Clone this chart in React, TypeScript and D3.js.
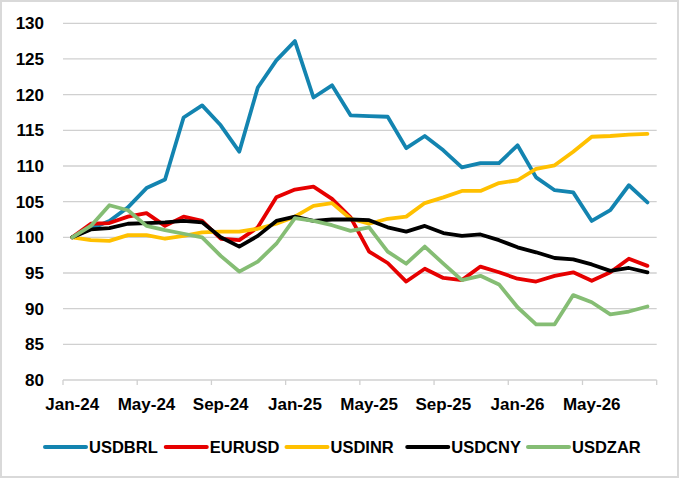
import React, { useEffect, useRef } from "react";
import * as d3 from "d3";

const months = [
  "Jan-24", "Feb-24", "Mar-24", "Apr-24", "May-24", "Jun-24", "Jul-24", "Aug-24",
  "Sep-24", "Oct-24", "Nov-24", "Dec-24", "Jan-25", "Feb-25", "Mar-25", "Apr-25",
  "May-25", "Jun-25", "Jul-25", "Aug-25", "Sep-25", "Oct-25", "Nov-25", "Dec-25",
  "Jan-26", "Feb-26", "Mar-26", "Apr-26", "May-26", "Jun-26", "Jul-26", "Aug-26",
];

const usdbrl = [
  100, 101.2, 102.3, 104.2, 106.9, 108.1, 116.8, 118.5, 115.7, 112.0, 121.0, 124.8,
  127.5, 119.6, 121.3, 117.1, 117.0, 116.9, 112.5, 114.2, 112.2, 109.8, 110.4, 110.4,
  112.9, 108.4, 106.6, 106.3, 102.3, 103.8, 107.3, 104.9,
];
const eurusd = [
  100, 101.9, 102.0, 102.9, 103.4, 101.6, 102.9, 102.3, 99.8, 99.6, 101.4, 105.6,
  106.7, 107.1, 105.4, 102.8, 98.0, 96.4, 93.8, 95.6, 94.3, 94.0, 95.9, 95.1,
  94.2, 93.8, 94.6, 95.1, 93.9, 95.1, 97.0, 96.0,
];
const usdinr = [
  100, 99.6, 99.5, 100.3, 100.3, 99.8, 100.2, 100.7, 100.8, 100.8, 101.2, 101.9,
  102.9, 104.4, 104.8, 102.6, 101.9, 102.6, 102.9, 104.8, 105.6, 106.5, 106.5, 107.6,
  108.0, 109.6, 110.1, 112.0, 114.1, 114.2, 114.4, 114.5,
];
const usdcny = [
  100, 101.1, 101.3, 101.9, 102.0, 102.1, 102.3, 102.1, 100.0, 98.7, 100.2, 102.3,
  102.9, 102.3, 102.5, 102.5, 102.4, 101.4, 100.8, 101.6, 100.6, 100.2, 100.4, 99.6,
  98.6, 97.9, 97.1, 96.9, 96.2, 95.3, 95.7, 95.1,
];
const usdzar = [
  100, 101.6, 104.5, 103.8, 101.6, 101.0, 100.5, 100.0, 97.4, 95.2, 96.6, 99.1,
  102.7, 102.3, 101.7, 100.9, 101.4, 98.0, 96.3, 98.7, 96.3, 94.0, 94.6, 93.4,
  90.2, 87.8, 87.8, 91.9, 90.9, 89.2, 89.6, 90.3,
];

const seriesNames = ["USDBRL", "EURUSD", "USDINR", "USDCNY", "USDZAR"];
const seriesValues = [usdbrl, eurusd, usdinr, usdcny, usdzar];
const seriesColors = ["#1384b0", "#e60000", "#ffc000", "#000000", "#85bd74"];
const yTicks = [80, 85, 90, 95, 100, 105, 110, 115, 120, 125, 130];

const W = 680;
const H = 479;
const FONT = "'Liberation Sans', Arial, sans-serif";

const App: React.FC = () => {
  const svgRef = useRef<SVGSVGElement | null>(null);

  useEffect(() => {
    const svgElement = svgRef.current;
    if (!svgElement) return;
    const svg = d3.select(svgElement);
    svg.selectAll("*").remove();

    svg
      .append("rect")
      .attr("x", 1)
      .attr("y", 1)
      .attr("width", W - 3)
      .attr("height", H - 3)
      .attr("fill", "white")
      .attr("stroke", "#d9d9d9")
      .attr("stroke-width", 2);

    const x = d3.scaleBand<string>().domain(months).range([63, 656.7]).padding(0);
    const y = d3.scaleLinear().domain([80, 130]).range([380, 23.3]);
    const cx = (m: string) => (x(m) as number) + x.bandwidth() / 2;

    // gridlines
    svg
      .append("g")
      .selectAll("line")
      .data(yTicks.filter((t) => t !== 80))
      .enter()
      .append("line")
      .attr("x1", 63)
      .attr("x2", 656.7)
      .attr("y1", (d) => y(d))
      .attr("y2", (d) => y(d))
      .attr("stroke", "#d0d0d0")
      .attr("stroke-width", 1.3);

    // y labels
    svg
      .append("g")
      .selectAll("text")
      .data(yTicks)
      .enter()
      .append("text")
      .attr("x", 44)
      .attr("y", (d) => y(d))
      .attr("dy", "0.36em")
      .attr("text-anchor", "end")
      .attr("font-family", FONT)
      .attr("font-weight", "bold")
      .attr("font-size", 17)
      .attr("fill", "#000")
      .text((d) => String(d));

    // x axis
    const xAxis = svg.append("g");
    xAxis
      .append("line")
      .attr("x1", 63)
      .attr("x2", 656.7)
      .attr("y1", y(80))
      .attr("y2", y(80))
      .attr("stroke", "#d0d0d0")
      .attr("stroke-width", 1.3);
    const tickIdx = d3.range(0, months.length + 1, 4);
    xAxis
      .selectAll(".tick")
      .data(tickIdx)
      .enter()
      .append("line")
      .attr("class", "tick")
      .attr("x1", (i) => 63 + i * x.step())
      .attr("x2", (i) => 63 + i * x.step())
      .attr("y1", y(80))
      .attr("y2", y(80) + 5)
      .attr("stroke", "#d0d0d0")
      .attr("stroke-width", 1.3);
    xAxis
      .selectAll(".lbl")
      .data(months.filter((_, i) => i % 4 === 0))
      .enter()
      .append("text")
      .attr("class", "lbl")
      .attr("x", (d) => cx(d))
      .attr("y", 410)
      .attr("text-anchor", "middle")
      .attr("font-family", FONT)
      .attr("font-weight", "bold")
      .attr("font-size", 17)
      .attr("fill", "#000")
      .text((d) => d);

    // lines
    const line = d3
      .line<number>()
      .x((_, i) => cx(months[i]))
      .y((d) => y(d));

    seriesValues.forEach((vals, k) => {
      svg
        .append("path")
        .datum(vals)
        .attr("d", line)
        .attr("fill", "none")
        .attr("stroke", seriesColors[k])
        .attr("stroke-width", 3.8)
        .attr("stroke-linejoin", "round")
        .attr("stroke-linecap", "round");
    });

    // legend
    const legend = svg.append("g");
    seriesNames.forEach((name, k) => {
      const lx = 45 + k * 120.75;
      legend
        .append("line")
        .attr("x1", lx)
        .attr("x2", lx + 41)
        .attr("y1", 447)
        .attr("y2", 447)
        .attr("stroke", seriesColors[k])
        .attr("stroke-width", 4)
        .attr("stroke-linecap", "round");
      legend
        .append("text")
        .attr("x", lx + 44)
        .attr("y", 447)
        .attr("dy", "0.36em")
        .attr("font-family", FONT)
        .attr("font-weight", "bold")
        .attr("font-size", 16.5)
        .attr("fill", "#000")
        .text(name);
    });
  }, []);

  return (
    <svg
      ref={svgRef}
      width={W}
      height={H}
      style={{ position: "absolute", left: 0, top: 0 }}
    ></svg>
  );
};

export default App;
